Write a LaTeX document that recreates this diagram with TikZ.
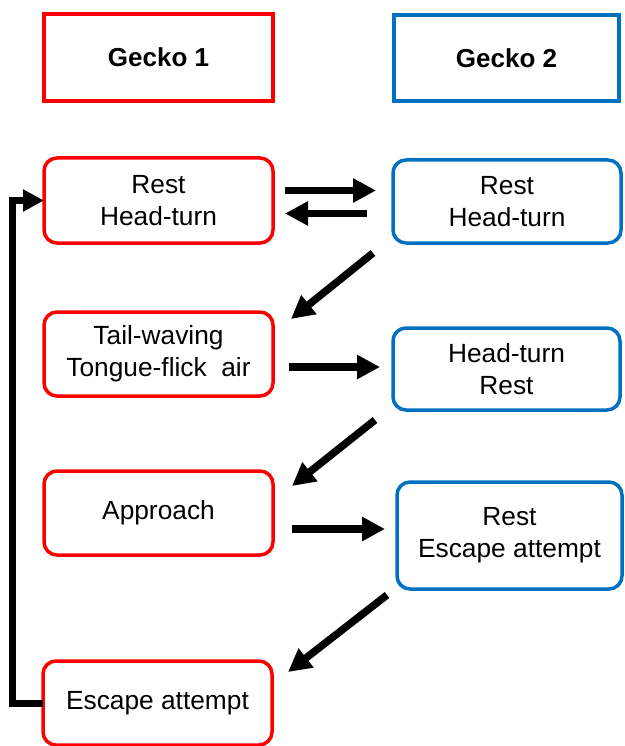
\documentclass[tikz,border=0pt]{standalone}
\usepackage{fontspec}
\setmainfont{Liberation Sans}
\usetikzlibrary{arrows.meta}
\definecolor{gred}{RGB}{255,0,0}
\definecolor{gblue}{RGB}{0,112,192}
\begin{document}
\begin{tikzpicture}[x=1pt,y=-1pt,
  txt/.style={font=\fontsize{26.3}{32}\selectfont, align=center, inner sep=0pt, outer sep=0pt},
  hdr/.style={txt, font=\fontsize{26}{32}\selectfont\bfseries, line width=4.5pt},
  redhdr/.style={hdr, draw=gred},
  bluehdr/.style={hdr, draw=gblue},
  redbox/.style={txt, draw=gred, line width=3.5pt, rounded corners=13pt},
  bluebox/.style={txt, draw=gblue, line width=3.5pt, rounded corners=13pt},
  fat/.style={line width=7.5pt, -{Triangle[length=23pt,width=23pt]}}
]
\useasboundingbox (0,0) rectangle (624,746);
% headers
\node[redhdr, minimum width=229pt, minimum height=87pt] (H1) at (158.5,57.5) {Gecko 1};
\node[bluehdr, minimum width=225pt, minimum height=86pt] (H2) at (506.5,58) {Gecko 2};
% gecko 1
\node[redbox, minimum width=229pt, minimum height=85pt] (R1) at (158.5,200.5) {Rest\\Head-turn};
\node[redbox, minimum width=229pt, minimum height=84pt] (R2) at (158.5,354) {Tail-waving\\Tongue-flick~~air};
\node[redbox, minimum width=229pt, minimum height=84pt] (R3) at (158.5,513) {Approach};
\node[redbox, minimum width=229pt, minimum height=84pt] (R4) at (157.5,703) {Escape attempt};
% gecko 2
\node[bluebox, minimum width=228pt, minimum height=83pt] (B1) at (507,201.5) {Rest\\Head-turn};
\node[bluebox, minimum width=227pt, minimum height=82pt] (B2) at (506.5,369) {Head-turn\\Rest};
\node[bluebox, minimum width=225pt, minimum height=107pt] (B3) at (509.5,535.5) {Rest\\Escape attempt};
% arrows
\draw[fat] ([shift={(12,-10)}]R1.east) -- ([shift={(-17,-11)}]B1.west);
\draw[fat] ([shift={(-26,12)}]B1.west) -- ([shift={(12,13)}]R1.east);
\draw[fat] ([shift={(-20,10)}]B1.south west) -- ([shift={(18,7)}]R2.north east);
\draw[fat] ([shift={(16,13)}]R2.east) -- ([shift={(-13,-2)}]B2.west);
\draw[fat] ([shift={(-18,10)}]B2.south west) -- ([shift={(19,15)}]R3.north east);
\draw[fat] ([shift={(19,16)}]R3.east) -- ([shift={(-12,-6.5)}]B3.west);
\draw[fat] ([shift={(-10,6)}]B3.south west) -- ([shift={(16,11)}]R4.north east);
% feedback loop
\draw[line width=7pt, -{Triangle[length=21pt,width=21pt]}] (R4.west) -- ++(-30.5,0) |- (R1.west);
\end{tikzpicture}
\end{document}
